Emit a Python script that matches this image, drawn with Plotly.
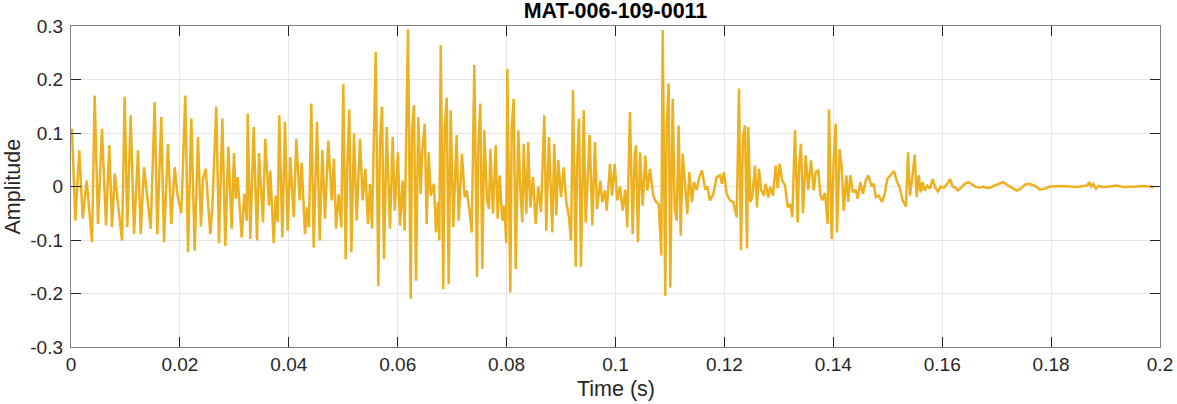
import plotly.graph_objects as go

# Time values (milliseconds) and amplitude (local extrema)
time_ms = [
    0.18, 0.42, 0.79, 1.52, 2.15, 2.88, 3.12, 3.86, 4.35, 4.96, 5.69, 6.43, 7.03, 7.53, 8.03,
    9.37, 9.86, 10.34, 10.96, 11.57, 12.31, 12.80, 13.41, 14.64, 15.37, 15.85, 16.58, 17.08,
    17.81, 18.42, 19.04, 19.52, 20.26, 20.99, 21.49, 22.09, 22.72, 23.32,
    23.87, 24.24, 24.74, 25.58, 25.95, 26.68, 27.18, 27.79, 28.34, 28.89, 29.51, 29.93, 30.25,
    30.61, 31.35, 31.83, 32.27, 32.45, 32.93, 33.55, 34.16, 34.53, 35.26, 35.68, 36.36, 36.60,
    37.23, 37.59, 37.96, 38.25, 38.81, 39.30, 39.80, 40.27, 40.90, 41.38, 42.00, 42.37, 42.97,
    43.34, 43.71, 44.13, 44.57, 45.18, 45.67, 46.15, 46.65, 47.25, 47.88,
    48.30, 48.67, 49.16, 49.64, 50.01, 50.45, 50.74, 51.11, 51.48, 51.97, 52.47, 53.07, 53.57,
    54.05, 54.54, 54.91, 55.28, 55.96, 56.44, 56.75, 57.12, 57.48, 57.98, 58.58, 59.08, 59.45,
    60.05, 60.42, 60.92, 61.28, 61.89, 62.39, 62.62, 62.99, 63.36, 63.78, 64.22, 64.46, 64.96,
    65.32, 65.69, 66.06, 66.66, 67.03, 67.40, 67.64, 67.90, 68.37, 68.63, 69.00, 69.36, 69.73,
    70.21, 70.83, 71.20, 71.81, 72.30, 72.67,
    73.22, 73.59, 74.07, 74.56, 74.80, 75.17, 75.54, 75.90, 76.40, 76.77, 77.01, 77.50, 78.00,
    78.36, 78.73, 79.21, 79.58, 79.94, 80.13, 80.68, 80.94, 81.30, 81.67, 82.15, 82.51, 82.88,
    83.14, 83.62, 83.98, 84.35, 84.85, 85.34, 85.82, 86.32, 86.92, 87.29, 87.78, 88.39, 88.76,
    89.13, 89.49, 89.99, 90.48, 90.96, 91.46, 91.83, 92.19, 92.69, 92.93, 93.29, 93.66, 94.16,
    94.52, 95.26, 95.74, 96.23, 96.60, 97.21, 97.57, 98.07,
    98.38, 98.99, 99.36, 99.85, 100.33, 100.82, 101.32, 101.80, 102.16, 102.66, 103.15, 103.52,
    103.76, 104.13, 104.50, 104.99, 105.47, 105.84, 106.33, 106.94, 107.44, 107.93, 108.41,
    108.67, 109.14, 109.40, 109.77, 110.06, 110.50, 110.87, 111.24, 111.60, 111.97, 112.34,
    112.82, 113.19, 113.55, 114.05, 114.41, 114.91, 115.39, 115.88, 116.49, 116.86, 117.35,
    117.96, 118.58, 119.19, 119.56, 119.92, 120.42, 121.03, 121.63, 122.26,
    122.68, 123.04, 123.41, 123.78, 124.15, 124.39, 124.75, 125.12, 125.62, 125.98, 126.35,
    126.72, 127.21, 127.58, 128.06, 128.43, 128.92, 129.42, 129.79, 130.15, 130.63, 131.13,
    131.62, 132.10, 132.47, 132.96, 133.46, 133.70, 134.06, 134.43, 134.93, 135.41, 135.90,
    136.40, 136.77, 137.24, 137.61, 137.98, 138.47, 138.97, 139.21, 139.70, 140.07, 140.44,
    140.68, 141.17, 141.54, 141.91, 142.39, 142.75, 143.12, 143.61, 144.11, 144.48, 144.96,
    145.45, 145.95, 146.43, 147.05, 147.42,
    147.84, 148.33, 148.94, 149.44, 149.91, 150.54, 151.15, 151.64, 152.25, 152.74, 153.35,
    153.72, 154.08, 154.45, 154.95, 155.31, 155.68, 156.05, 156.41, 156.78, 157.26, 157.75,
    158.25, 158.73, 159.22, 159.72, 160.33, 160.93, 161.43, 161.92, 162.40, 162.90, 163.63,
    164.13, 164.86, 165.47, 166.20, 166.94, 167.55, 168.17, 168.90, 169.64, 170.48, 171.22,
    172.08, 172.94, 173.68, 174.41, 175.26, 176.00,
    177.09, 177.96, 178.93, 179.79, 181.02, 182.24, 183.47, 184.70, 185.91, 186.64, 187.01,
    187.38, 187.74, 188.24, 188.74, 189.58, 190.81, 192.04, 193.25, 194.49, 195.72, 196.93,
    198.16, 198.89,
]

amplitude = [
    0.108, 0.036, -0.064, 0.0675, -0.060, 0.011, -0.014, -0.104, 0.170, -0.070, 0.108, -0.073, 0.077, -0.076, 0.024,
    -0.101, 0.1675, -0.076, 0.133, -0.089, 0.0675, -0.089, 0.036, -0.079, 0.158, -0.089, 0.130, -0.104,
    0.080, -0.070, 0.036, -0.014, -0.050, 0.170, -0.123, 0.127, -0.120, 0.0925,
    -0.075, 0.014, 0.033, -0.089, -0.039, 0.149, -0.106, 0.127, -0.111, 0.074, -0.079, 0.0625, -0.023,
    0.0175, -0.095, -0.014, -0.064, 0.136, -0.098, 0.111, -0.101, 0.0625, -0.067, 0.089, -0.036, 0.030,
    -0.106, -0.017, -0.067, 0.133, -0.095, 0.121, -0.0825, 0.055, -0.0575, 0.089, -0.026, 0.044, -0.089,
    -0.039, -0.076, 0.155, -0.114, 0.121, -0.101, 0.0675, -0.060, 0.086, -0.026,
    0.052, -0.079, -0.014, -0.076, 0.191, -0.136, 0.036, 0.144, -0.123, 0.099, -0.064, 0.089, -0.026,
    0.033, -0.070, 0.005, -0.079, 0.252, -0.186, 0.086, 0.149, -0.136, 0.111, -0.079, 0.0925, -0.045,
    0.064, -0.073, 0.011, -0.0825, 0.294, -0.210, 0.105, 0.152, -0.176, 0.130, -0.014, 0.061, 0.1175,
    -0.070, 0.064, -0.017, 0.005, -0.086, -0.029, -0.101, 0.264, -0.192, 0.108, 0.166, -0.1825, 0.1425,
    -0.076, 0.096, -0.064, 0.061, -0.020, -0.0075,
    -0.048, -0.086, 0.227, -0.169, 0.074, 0.155, -0.154, 0.105, -0.026, -0.042, 0.070, -0.051, 0.077,
    -0.060, 0.021, -0.064, -0.036, -0.106, 0.220, -0.198, 0.111, 0.164, -0.154, 0.105, -0.004, -0.067,
    0.080, -0.051, 0.083, -0.039, 0.0175, -0.070, 0.000, -0.048, 0.133, -0.0825, 0.0925, -0.086, 0.080,
    -0.054, 0.050, -0.020, 0.036, -0.029, -0.0575, -0.101, 0.181, -0.150, 0.036, 0.127, -0.150, 0.1425,
    -0.067, 0.096, -0.073, 0.083, -0.042, 0.011, -0.029, -0.0075,
    -0.045, 0.0425, -0.017, 0.0425, -0.026, 0.000, -0.045, -0.006, -0.076, 0.139, -0.089, 0.058,
    0.077, -0.104, 0.064, -0.036, 0.058, -0.0075, 0.033, -0.017, -0.029, -0.0325, -0.129,
    0.2925, -0.204, 0.111, 0.1925, -0.189, 0.164, -0.039, -0.064, 0.114, -0.092, 0.061,
    -0.014, -0.051, 0.027, -0.029, 0.008, -0.006, 0.0175, 0.030, -0.006, 0.000, -0.026,
    -0.014, 0.0175, 0.021, 0.005, 0.027, -0.014, -0.026, -0.029, -0.0575,
    0.183, -0.119, 0.0925, 0.114, -0.116, 0.111, -0.029, -0.020, 0.039, -0.039, 0.033,
    -0.006, -0.017, 0.005, -0.020, -0.001, -0.017, 0.039, -0.003, 0.0425, 0.011, 0.002,
    -0.039, -0.0325, -0.0575, 0.105, -0.067, 0.036, 0.080, -0.050, 0.058, -0.006, 0.049,
    -0.0075, 0.027, 0.030, -0.014, -0.026, -0.012, -0.070, 0.144, -0.098, 0.049, 0.1175,
    -0.086, 0.070, 0.036, -0.045, 0.021, -0.029, 0.021, -0.011, -0.006, -0.023, 0.008,
    -0.014, 0.011, 0.021, 0.000, 0.005,
    -0.020, -0.017, -0.029, -0.014, 0.014, 0.021, 0.029, 0.011, -0.004, -0.026, -0.0375,
    0.064, -0.017, 0.011, 0.060, -0.020, 0.021, -0.011, 0.008, -0.008, 0.002, -0.004,
    0.014, -0.002, -0.009, 0.000, -0.002, 0.005, 0.014, 0.000, -0.002, -0.0075, 0.000,
    0.005, 0.008, 0.004, -0.001, -0.002, 0.000, -0.003, -0.002, 0.002, 0.006, 0.008,
    0.002, -0.003, -0.0075, -0.004, 0.004, 0.005,
    0.001, -0.006, -0.004, 0.000, 0.001, 0.001, 0.000, -0.001, 0.001, 0.002, 0.008,
    0.000, 0.005, -0.004, 0.001, -0.001, 0.000, 0.002, -0.001, -0.001, 0.000, 0.001,
    0.000, -0.001,
]

x_tick_vals = [0, 0.02, 0.04, 0.06, 0.08, 0.1, 0.12, 0.14, 0.16, 0.18, 0.2]
x_tick_text = ["0", "0.02", "0.04", "0.06", "0.08", "0.1", "0.12", "0.14", "0.16", "0.18", "0.2"]
y_tick_vals = [-0.3, -0.2, -0.1, 0, 0.1, 0.2, 0.3]
y_tick_text = ["-0.3", "-0.2", "-0.1", "0", "0.1", "0.2", "0.3"]

title_text = "MAT-006-109-0011"
x_label = "Time (s)"
y_label = "Amplitude"

time_s = [v / 1000.0 for v in time_ms]

FONT = "Liberation Sans, Arial, Helvetica, sans-serif"
W, H = 1177, 404
ML, MR, MT, MB = 71, 17, 26, 57

fig = go.Figure()
fig.add_trace(go.Scatter(
    x=time_s, y=amplitude, mode="lines",
    line=dict(color="#EDB120", width=2.5),
    hoverinfo="skip", showlegend=False,
))

axis_common = dict(
    automargin=False,
    showline=True, linecolor="#808080", linewidth=1.3, mirror="ticks",
    ticks="inside", ticklen=10, tickwidth=1, tickcolor="#262626",
    showgrid=True, gridcolor="#e5e5e5", gridwidth=1, zeroline=False,
    tickfont=dict(family=FONT, size=19, color="#262626"),
)

fig.update_layout(
    width=W, height=H,
    margin=dict(l=ML, r=MR, t=MT, b=MB, autoexpand=False),
    paper_bgcolor="white", plot_bgcolor="white",
    title=dict(text="<b>" + title_text + "</b>", x=615.5 / W, xanchor="center",
               y=1 - 10.5 / H, yanchor="middle",
               font=dict(family=FONT, size=21.5, color="#000000")),
    xaxis=dict(range=[0, 0.2], tickvals=x_tick_vals, ticktext=x_tick_text, **axis_common),
    yaxis=dict(range=[-0.3, 0.3], tickvals=y_tick_vals, ticktext=y_tick_text,
               ticklabelstandoff=3, **axis_common),
    annotations=[
        dict(text=x_label, xref="paper", yref="paper", x=0.5, y=0, xanchor="center",
             yanchor="middle", yshift=-42, showarrow=False,
             font=dict(family=FONT, size=21.5, color="#262626")),
        dict(text=y_label, xref="paper", yref="paper", x=0, y=0.5, xanchor="center",
             yanchor="middle", xshift=-59, textangle=-90, showarrow=False,
             font=dict(family=FONT, size=21.5, color="#262626")),
    ],
)

fig.write_html("out.html", config={"displayModeBar": False},
               post_script="document.body.style.margin='0';")
